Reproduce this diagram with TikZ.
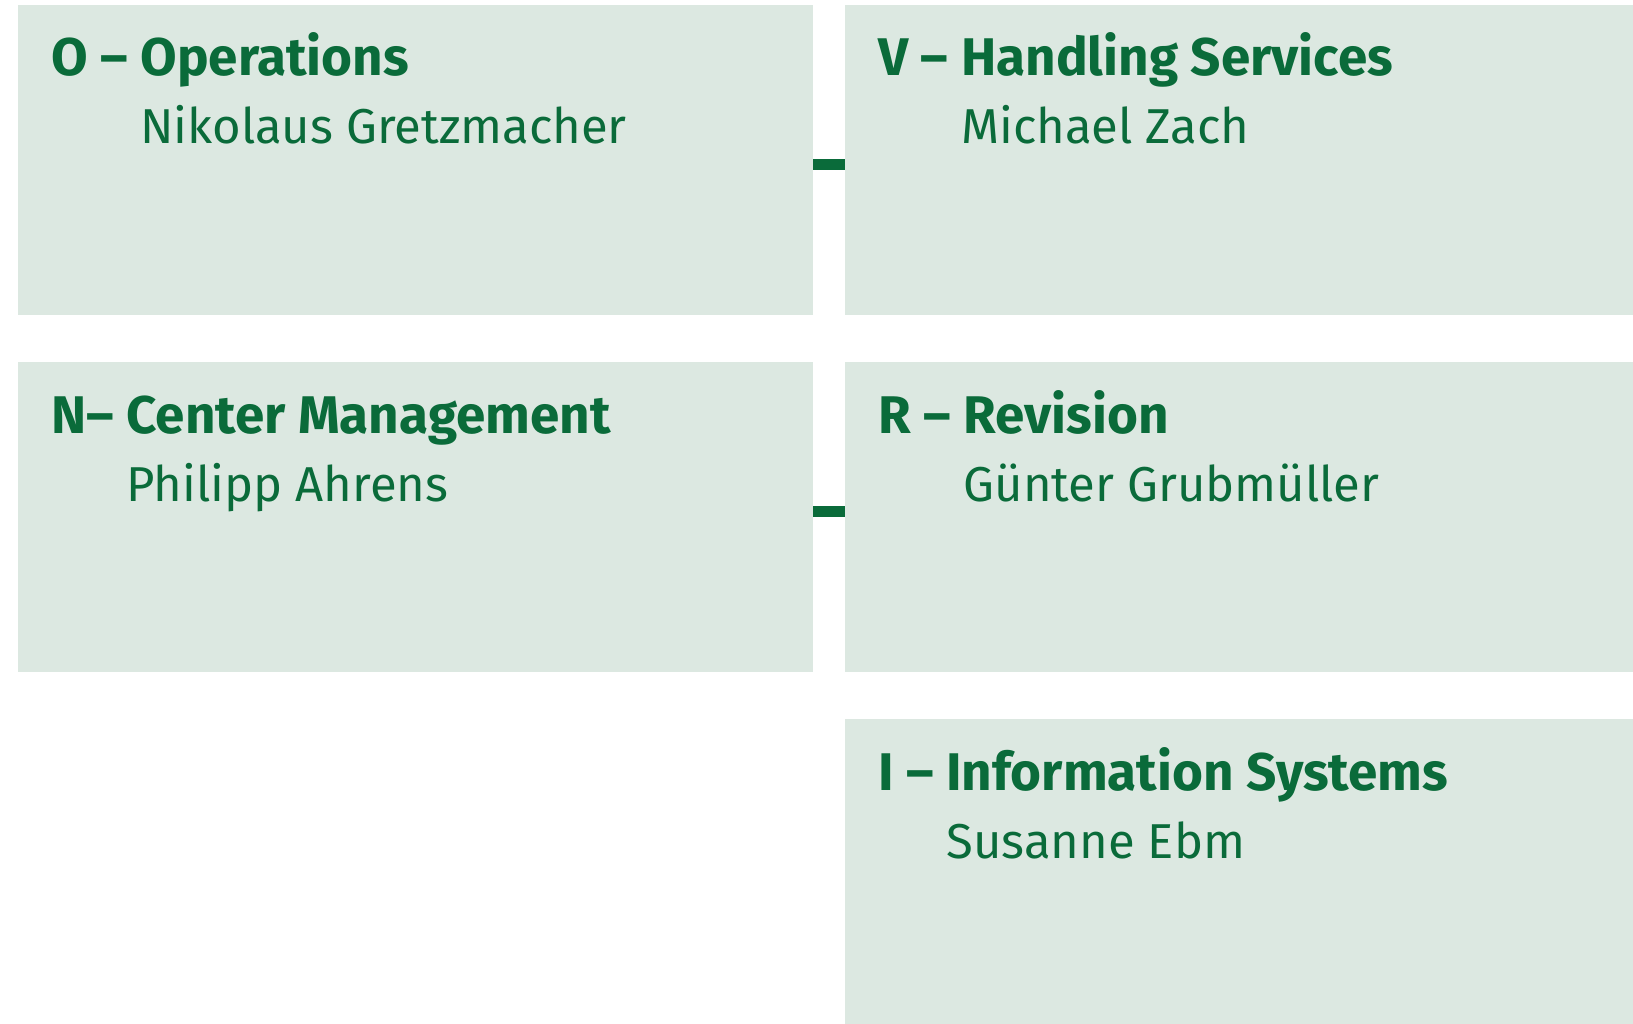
\documentclass[tikz,border=0pt]{standalone}
\usepackage{fontspec}
\setmainfont{Fira Sans}
\usepackage{tikz}
\usetikzlibrary{positioning}

\definecolor{dbGreen}{RGB}{10,107,58}
\definecolor{boxFill}{RGB}{220,232,225}
\newcommand{\titleFont}{\fontsize{53}{60}\selectfont\bfseries}
\newcommand{\personFont}{\fontsize{49}{58}\selectfont\mdseries}

\begin{document}
\begin{tikzpicture}[
    x=1pt, y=1pt,
    unitWidthL/.style={minimum width=795pt},
    unitWidthR/.style={minimum width=788pt},
    unitHeight/.style={minimum height=310pt},
    unit/.style={fill=boxFill, anchor=north west, inner sep=0pt, outer sep=0pt},
    title/.style={anchor=base west, inner sep=0pt, text=dbGreen, font=\titleFont},
    person/.style={anchor=base west, inner sep=0pt, text=dbGreen},
    link/.style={draw=dbGreen, line width=11pt},
        ]
    \useasboundingbox (0,0) rectangle (1633,-1024);

    \node[unit, unitWidthL, unitHeight] (opsBox) at (18, -5) {};
    \node[unit, unitWidthR, unitHeight] (hdlBox) at (845, -5) {};
    \node[unit, unitWidthL, unitHeight] (cmBox) at (18, -362) {};
    \node[unit, unitWidthR, unitHeight] (revBox) at (845, -362) {};
    \node[unit, unitWidthR, minimum height=305pt] (itBox) at (845, -719) {};

    \node[title] (opsTitle) at ([xshift=33, yshift=-71]opsBox.north west) {O – Operations};
    \node[person] (opsHead) at ([xshift=33, yshift=-139]opsBox.north west) {\phantom{\titleFont O – }\personFont Nikolaus Gretzmacher};

    \node[title] (hdlTitle) at ([xshift=33, yshift=-71]hdlBox.north west) {V – Handling Services};
    \node[person] (hdlHead) at ([xshift=33, yshift=-139]hdlBox.north west) {\phantom{\titleFont V – }\personFont Michael Zach};

    \node[title] (cmTitle) at ([xshift=33, yshift=-71]cmBox.north west) {N– Center Management};
    \node[person] (cmHead) at ([xshift=33, yshift=-139]cmBox.north west) {\phantom{\titleFont N– }\personFont Philipp Ahrens};

    \node[title] (revTitle) at ([xshift=33, yshift=-71]revBox.north west) {R – Revision};
    \node[person] (revHead) at ([xshift=33, yshift=-139]revBox.north west) {\phantom{\titleFont R – }\personFont Günter Grubmüller};

    \node[title] (itTitle) at ([xshift=33, yshift=-71]itBox.north west) {I – Information Systems};
    \node[person] (itHead) at ([xshift=33, yshift=-139]itBox.north west) {\phantom{\titleFont I – }\personFont Susanne Ebm};

    \draw[link] ([yshift=-4.5]opsBox.east) -- ([yshift=-4.5]opsBox.east -| hdlBox.west);
    \draw[link] ([yshift=5.5]cmBox.east) -- ([yshift=5.5]cmBox.east -| revBox.west);
\end{tikzpicture}
\end{document}
